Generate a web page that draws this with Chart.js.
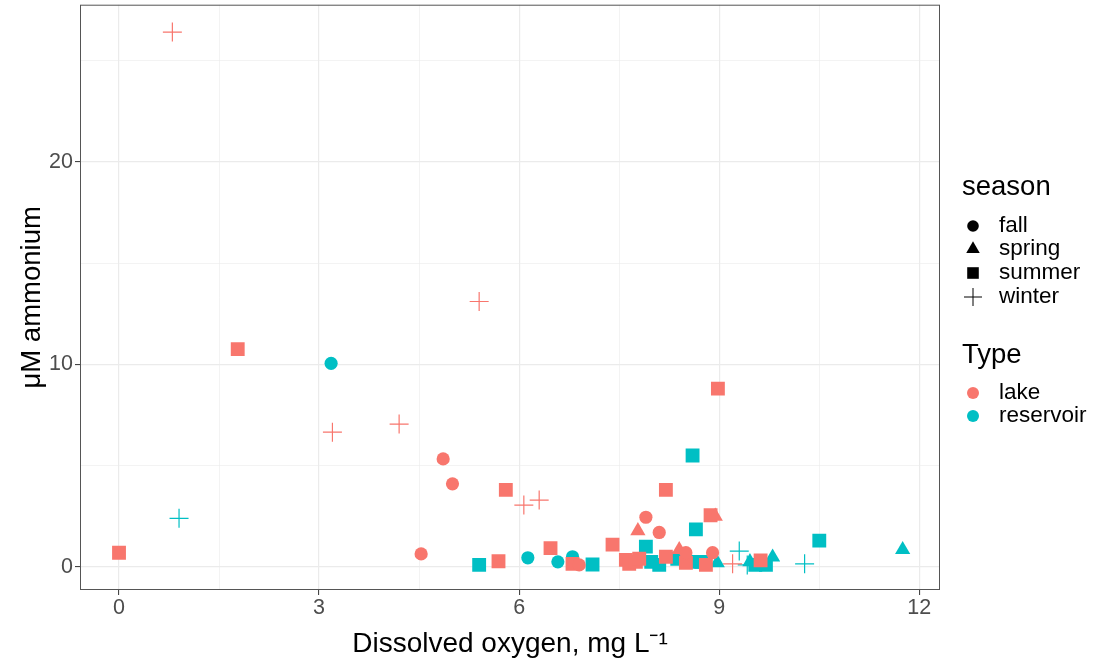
<!DOCTYPE html>
<html>
<head>
<meta charset="utf-8">
<script src="https://cdn.jsdelivr.net/npm/chart.js@4.4.1/dist/chart.umd.min.js"></script>
<style>
  html, body { margin: 0; padding: 0; background: #fff; }
  #wrap { width: 1096px; height: 667px; position: relative; overflow: hidden; }
  #chart { position: absolute; left: 0; top: -6px; }
</style>
</head>
<body>
<div id="wrap"><canvas id="chart" width="1096" height="673"></canvas></div>
<script>
// Dissolved oxygen vs ammonium, by season (shape) and type (colour)

const seasons = ['fall', 'spring', 'summer', 'winter'];
const types = ['lake', 'reservoir'];
const typeColors = ['#F8766D', '#00BFC4'];
const xTicks = [0, 1.5, 3, 4.5, 6, 7.5, 9, 10.5, 12];
const yTicks = [0, 5, 10, 15, 20, 25];

// one row per sample: dissolved oxygen (mg/L), ammonium (uM)
const lakeFallDO = [4.86, 5.0, 4.53, 6.9, 7.9, 8.1, 8.5, 8.9];
const lakeFallNH4 = [5.33, 4.1, 0.64, 0.1, 2.45, 1.7, 0.7, 0.7];
const lakeSpringDO = [7.78, 8.4, 8.94];
const lakeSpringNH4 = [1.78, 0.85, 2.5];
const lakeSummerDO = [0, 1.78, 5.8, 6.47, 5.69, 6.8, 7.4, 7.6, 7.65, 7.75, 7.8, 8.2, 8.2, 8.5, 8.8, 8.87, 8.98, 9.62];
const lakeSummerNH4 = [0.7, 10.75, 3.8, 0.93, 0.28, 0.15, 1.1, 0.35, 0.15, 0.25, 0.4, 3.8, 0.5, 0.2, 0.1, 2.55, 8.8, 0.32];
const lakeWinterDO = [0.8, 3.2, 4.2, 5.4, 6.07, 6.3, 9.2];
const lakeWinterNH4 = [26.4, 6.65, 7.05, 13.1, 3.05, 3.3, 0.15];

const resFallDO = [3.18, 6.13, 6.58, 6.8];
const resFallNH4 = [10.05, 0.45, 0.25, 0.5];
const resSpringDO = [8.97, 9.46, 9.8, 11.75];
const resSpringNH4 = [0.2, 0.25, 0.48, 0.85];
const resSummerDO = [5.4, 7.1, 7.9, 7.98, 8.1, 8.37, 8.6, 8.65, 8.64, 8.73, 9.54, 9.7, 10.5];
const resSummerNH4 = [0.1, 0.12, 1.0, 0.25, 0.1, 0.4, 5.5, 1.85, 0.25, 0.25, 0.1, 0.1, 1.3];
const resWinterDO = [0.9, 9.3, 9.42, 10.28];
const resWinterNH4 = [2.4, 0.78, 0.1, 0.15];

const groups = [
  [lakeFallDO, lakeFallNH4, 0, 0], [lakeSpringDO, lakeSpringNH4, 1, 0],
  [lakeSummerDO, lakeSummerNH4, 2, 0], [lakeWinterDO, lakeWinterNH4, 3, 0],
  [resFallDO, resFallNH4, 0, 1], [resSpringDO, resSpringNH4, 1, 1],
  [resSummerDO, resSummerNH4, 2, 1], [resWinterDO, resWinterNH4, 3, 1]
];

const pointStyles = ['circle', 'triangle', 'rect', 'cross'];
const pointRadii = [6.6, 8.8, 9.8, 9.5];

const FONT = '"Liberation Sans", Arial, sans-serif';
const SHIFT = 6; // canvas sits 6px above the page top

const datasets = groups.map(g => {
  const col = typeColors[g[3]];
  return {
    label: types[g[3]] + ' ' + seasons[g[2]],
    data: g[0].map((x, i) => ({ x: x, y: g[1][i] })),
    pointStyle: pointStyles[g[2]],
    pointRadius: pointRadii[g[2]],
    pointHoverRadius: pointRadii[g[2]],
    backgroundColor: col,
    borderColor: col,
    borderWidth: g[2] === 3 ? 1.2 : 0
  };
});

function isMajorX(v) { return v % 3 === 0; }
function isMajorY(v) { return v % 10 === 0; }

// panel border + ggplot-style legend
const panelAndLegend = {
  id: 'panelAndLegend',
  afterDatasetsDraw(chart) {
    const ctx = chart.ctx;
    const a = chart.chartArea;
    ctx.save();
    ctx.strokeStyle = '#555';
    ctx.lineWidth = 1;
    ctx.strokeRect(a.left + 0.5, a.top + 0.5, a.right - a.left - 1, a.bottom - a.top - 1);

    ctx.fillStyle = '#000';
    ctx.strokeStyle = '#000';
    ctx.textBaseline = 'middle';
    ctx.textAlign = 'left';
    ctx.font = '27.5px ' + FONT;
    ctx.fillText('season', 962, 187 + SHIFT);
    ctx.fillText('Type', 962, 355 + SHIFT);

    ctx.font = '22.5px ' + FONT;
    const rows = [226, 249, 273, 297];
    const legRadii = [5.8, 7.8, 8.2, 9];
    seasons.forEach((s, i) => {
      ctx.fillStyle = '#000';
      ctx.strokeStyle = '#000';
      Chart.helpers.drawPoint(ctx, {
        pointStyle: pointStyles[i], radius: legRadii[i],
        borderWidth: i === 3 ? 1 : 0, rotation: 0
      }, 973, rows[i] + SHIFT);
      ctx.fillStyle = '#000';
      ctx.fillText(s, 999, rows[i] + SHIFT);
    });
    const trows = [393, 416];
    types.forEach((t, i) => {
      ctx.fillStyle = typeColors[i];
      ctx.beginPath();
      ctx.arc(973, trows[i] + SHIFT, 6, 0, Math.PI * 2);
      ctx.fill();
      ctx.fillStyle = '#000';
      ctx.fillText(t, 999, trows[i] + SHIFT);
    });
    ctx.restore();
  }
};

new Chart(document.getElementById('chart'), {
  type: 'scatter',
  data: { datasets: datasets },
  options: {
    responsive: false,
    animation: false,
    layout: { padding: { top: 5, right: 156, bottom: 0, left: 0 } },
    plugins: {
      legend: { display: false },
      tooltip: { enabled: false }
    },
    scales: {
      x: {
        type: 'linear',
        min: -0.585,
        max: 12.31,
        afterBuildTicks: s => { s.ticks = xTicks.map(v => ({ value: v })); },
        afterFit: s => { s.height = 77; s.paddingLeft = 0; s.paddingRight = 0; },
        border: { display: false },
        grid: {
          color: '#ebebeb',
          lineWidth: c => (c.tick && isMajorX(c.tick.value)) ? 1.2 : 0.6,
          tickColor: c => (c.tick && isMajorX(c.tick.value)) ? '#333' : 'rgba(0,0,0,0)',
          tickLength: 5,
          tickWidth: 1
        },
        ticks: {
          autoSkip: false,
          maxRotation: 0,
          padding: 0,
          color: '#4d4d4d',
          font: { family: FONT, size: 21.5 },
          callback: v => isMajorX(v) ? String(v) : ''
        },
        title: {
          display: true,
          text: 'Dissolved oxygen, mg L\u207B\u00B9',
          color: '#000',
          font: { family: FONT, size: 28 },
          padding: { top: 0, bottom: 6 }
        }
      },
      y: {
        type: 'linear',
        min: -1.14,
        max: 27.75,
        afterBuildTicks: s => { s.ticks = yTicks.map(v => ({ value: v })); },
        afterFit: s => { s.width = 80; s.paddingTop = 0; s.paddingBottom = 0; },
        border: { display: false },
        grid: {
          color: '#ebebeb',
          lineWidth: c => (c.tick && isMajorY(c.tick.value)) ? 1.2 : 0.6,
          tickColor: c => (c.tick && isMajorY(c.tick.value)) ? '#333' : 'rgba(0,0,0,0)',
          tickLength: 5,
          tickWidth: 1
        },
        ticks: {
          autoSkip: false,
          padding: 2,
          color: '#4d4d4d',
          font: { family: FONT, size: 21.5 },
          callback: v => isMajorY(v) ? String(v) : ''
        },
        title: {
          display: true,
          text: '\u03BCM ammonium',
          color: '#000',
          font: { family: FONT, size: 27.5 },
          padding: { top: 16, bottom: 0 }
        }
      }
    }
  },
  plugins: [panelAndLegend]
});
</script>
</body>
</html>
